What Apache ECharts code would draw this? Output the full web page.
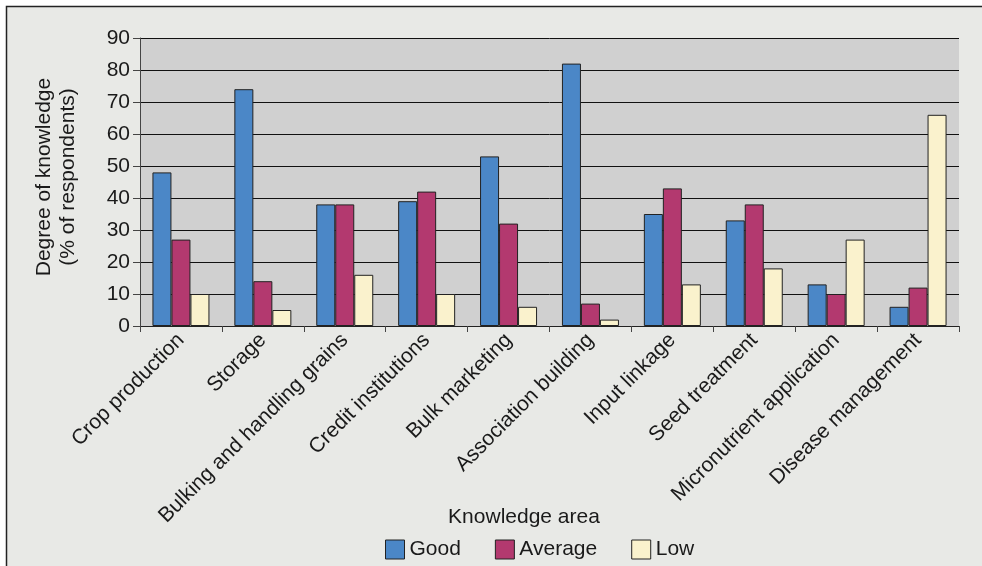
<!DOCTYPE html>
<html>
<head>
<meta charset="utf-8">
<script src="https://cdn.jsdelivr.net/npm/echarts@6/dist/echarts.min.js"></script>
<style>
html,body{margin:0;padding:0;background:#fff;}
#chart{width:982px;height:566px;}
</style>
</head>
<body>
<div id="chart"></div>
<script>
const categories = ["Crop production","Storage","Bulking and handling grains","Credit institutions","Bulk marketing","Association building","Input linkage","Seed treatment","Micronutrient application","Disease management"];
const good    = [48, 74, 38, 39, 53, 82, 35, 33, 13, 6];
const average = [27, 14, 38, 42, 32, 7, 43, 38, 10, 12];
const low     = [10, 5, 16, 10, 6, 2, 13, 18, 27, 66];
const yTicks  = [0, 10, 20, 30, 40, 50, 60, 70, 80, 90];
const seriesNames = ["Good", "Average", "Low"];
const colors = ["#4b87c7", "#b3396f", "#faf2cd"];

const FONT = '"Liberation Sans", Arial, sans-serif';
const chart = echarts.init(document.getElementById('chart'));
const mk = (name, data, color) => ({
  name, type: 'bar', data,
  barWidth: 19, barGap: '0%',
  itemStyle: { color, borderColor: '#222', borderWidth: 1 },
  emphasis: { disabled: true }
});
chart.setOption({
  animation: false,
  backgroundColor: '#ffffff',
  textStyle: { fontFamily: FONT },
  graphic: [
    { type: 'rect', z: -10, silent: true,
      shape: { x: 6.5, y: 6.5, width: 1000, height: 600 },
      style: { fill: '#e8e9e6', stroke: '#222', lineWidth: 1.5 } },
    { type: 'text', x: 56, y: 177, rotation: Math.PI / 2,
      style: { text: 'Degree of knowledge\n(% of respondents)', font: '21px ' + FONT, fill: '#1a1a1a',
               textAlign: 'center', textVerticalAlign: 'middle', lineHeight: 24 } },
    { type: 'text', x: 524, y: 517,
      style: { text: 'Knowledge area', font: '21px ' + FONT, fill: '#1a1a1a',
               textAlign: 'center', textVerticalAlign: 'middle' } }
  ],
  legend: {
    data: seriesNames,
    left: 380, top: 534,
    itemWidth: 19, itemHeight: 19, itemGap: 34,
    icon: 'rect',
    textStyle: { fontSize: 21, color: '#1a1a1a', fontFamily: FONT, padding: [2, 0, 0, 0] },
    itemStyle: { borderColor: '#222', borderWidth: 1 }
  },
  grid: {
    left: 140, right: 23, top: 38, bottom: 240,
    show: true, backgroundColor: '#d0d0d0', borderWidth: 0
  },
  xAxis: {
    type: 'category', data: categories,
    axisLine: { show: true, lineStyle: { color: '#222', width: 1 } },
    axisTick: { show: true, length: 6, lineStyle: { color: '#444' } },
    axisLabel: { interval: 0, rotate: 45, fontSize: 21, color: '#1a1a1a', margin: 11, fontFamily: FONT }
  },
  yAxis: {
    type: 'value', min: yTicks[0], max: yTicks[yTicks.length - 1], interval: 10,
    axisLine: { show: true, lineStyle: { color: '#444', width: 1 } },
    axisTick: { show: true, length: 7, lineStyle: { color: '#444' } },
    axisLabel: { fontSize: 21, color: '#1a1a1a', margin: 10, fontFamily: FONT },
    splitLine: { show: true, lineStyle: { color: '#111', width: 1 } }
  },
  series: [
    mk(seriesNames[0], good, colors[0]),
    mk(seriesNames[1], average, colors[1]),
    mk(seriesNames[2], low, colors[2])
  ]
});
</script>
</body>
</html>
